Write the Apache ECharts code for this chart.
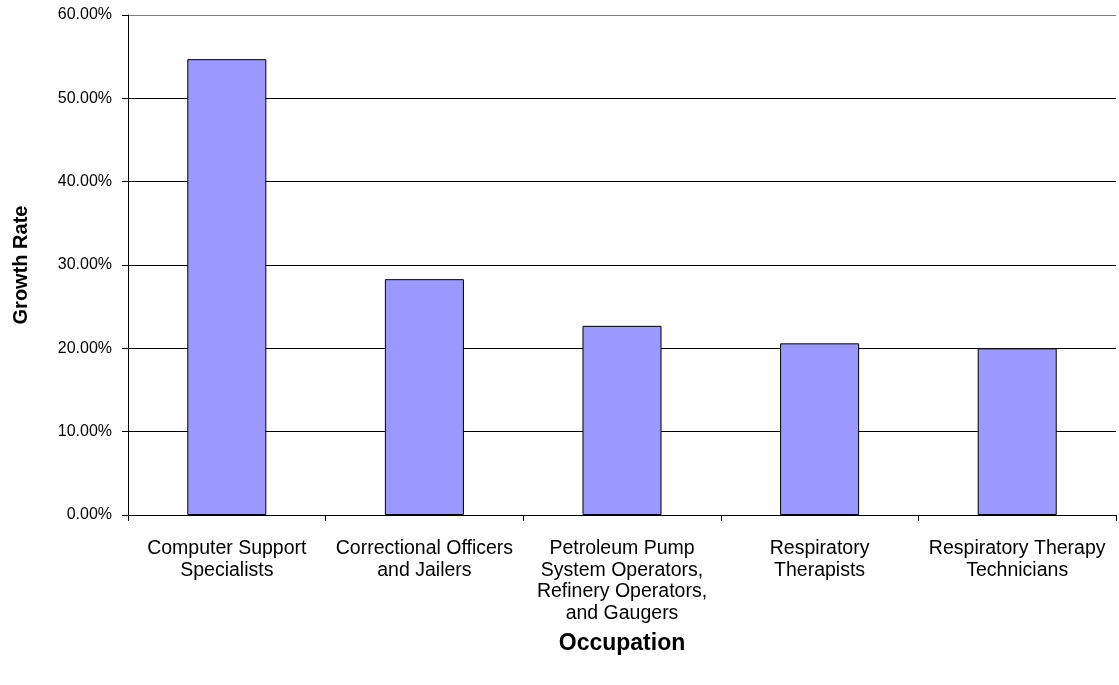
<!DOCTYPE html>
<html>
<head>
<meta charset="utf-8">
<script src="https://cdn.jsdelivr.net/npm/echarts@6/dist/echarts.min.js"></script>
<style>
html,body{margin:0;padding:0;background:#fff;}
#chart{width:1119px;height:685px;}
</style>
</head>
<body>
<div id="chart"></div>
<script>
const categories = [
  'Computer Support\nSpecialists',
  'Correctional Officers\nand Jailers',
  'Petroleum Pump\nSystem Operators,\nRefinery Operators,\nand Gaugers',
  'Respiratory\nTherapists',
  'Respiratory Therapy\nTechnicians'
];
const growthRate = [54.7, 28.3, 22.7, 20.6, 20.0];
const yTicks = [0, 10, 20, 30, 40, 50, 60];

const chart = echarts.init(document.getElementById('chart'));
const font = 'Liberation Sans, Arial, sans-serif';
chart.setOption({
  animation: false,
  backgroundColor: '#fff',
  grid: { left: 128, right: 3, top: 15, bottom: 170, containLabel: false },
  xAxis: {
    type: 'category',
    data: categories,
    name: 'Occupation',
    nameLocation: 'middle',
    nameGap: 117,
    nameTextStyle: { fontFamily: font, fontSize: 23, fontWeight: 'bold', color: '#000' },
    axisLine: { lineStyle: { color: '#000', width: 1 } },
    axisTick: { show: true, alignWithLabel: false, length: 6, lineStyle: { color: '#000' } },
    axisLabel: { interval: 0, fontFamily: font, fontSize: 19.5, color: '#000', lineHeight: 21.5, margin: 23, align: 'center' }
  },
  yAxis: {
    type: 'value',
    min: yTicks[0],
    max: yTicks[yTicks.length - 1],
    interval: 10,
    name: 'Growth Rate',
    nameLocation: 'middle',
    nameGap: 97,
    nameRotate: 90,
    nameTextStyle: { fontFamily: font, fontSize: 20, fontWeight: 'bold', color: '#000' },
    axisLine: { show: true, lineStyle: { color: '#000', width: 1 } },
    axisTick: { show: true, length: 6, lineStyle: { color: '#000' } },
    axisLabel: { fontFamily: font, fontSize: 16, color: '#000', margin: 16,
      formatter: v => v.toFixed(2) + '%' },
    splitLine: { show: true, lineStyle: { color: ['#000','#000','#000','#000','#000','#000','#808080'], width: 1 } }
  },
  series: [{
    type: 'bar',
    data: growthRate,
    barWidth: '40%',
    itemStyle: { color: '#9999FF', borderColor: '#000', borderWidth: 1 }
  }]
});
</script>
</body>
</html>
